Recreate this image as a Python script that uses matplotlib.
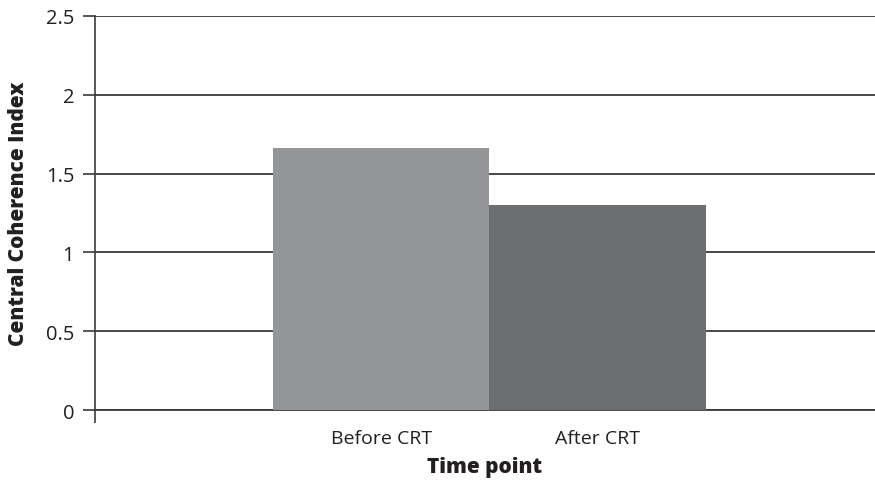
import matplotlib.pyplot as plt
from matplotlib.ticker import FixedLocator

# central coherence index per time point
time_points = ["Before CRT", "After CRT"]
cci_values = [1.66, 1.30]
bar_colors = ["#939598", "#6d6e71"]

y_ticks = [0, 0.5, 1, 1.5, 2, 2.5]
y_tick_labels = ["0", "0.5", "1", "1.5", "2", "2.5"]

plt.rcParams["font.family"] = ["Open Sans", "DejaVu Sans"]

fig = plt.figure(figsize=(8.75, 4.81), dpi=100)
ax = fig.add_axes([0.1086, 0.1455, 0.8914, 0.8192])

positions = list(range(len(time_points)))
ax.bar(positions, cci_values, width=1.0, color=bar_colors, zorder=3)

ax.set_ylim(0, 2.5)
ax.set_xlim(-1.322, 2.281)

ax.set_yticks(y_ticks)
ax.set_yticklabels(y_tick_labels, fontsize=14.5, color="#231f20")
ax.yaxis.grid(True, color="#3a3a3a", linewidth=1.3, zorder=1)
ax.tick_params(axis="y", length=9, width=1.2, color="#3a3a3a", pad=6)

ax.set_xticks(positions)
ax.set_xticklabels(time_points, fontsize=14, color="#231f20")
ax.tick_params(axis="x", which="major", length=0, pad=14)
ax.xaxis.set_minor_locator(FixedLocator([-1.322]))
ax.tick_params(axis="x", which="minor", length=9, width=1.2, color="#3a3a3a")

for side in ["top", "right"]:
    ax.spines[side].set_visible(False)
ax.spines["left"].set_color("#3a3a3a")
ax.spines["left"].set_linewidth(1.2)
ax.spines["bottom"].set_color("#3a3a3a")
ax.spines["bottom"].set_linewidth(1.3)

ax.set_xlabel("Time point", fontsize=15, fontweight="heavy", color="#231f20", labelpad=6)
ax.set_ylabel("Central Coherence Index", fontsize=15, fontweight="heavy", color="#231f20", labelpad=12)

fig.savefig("out.png", dpi=100)
